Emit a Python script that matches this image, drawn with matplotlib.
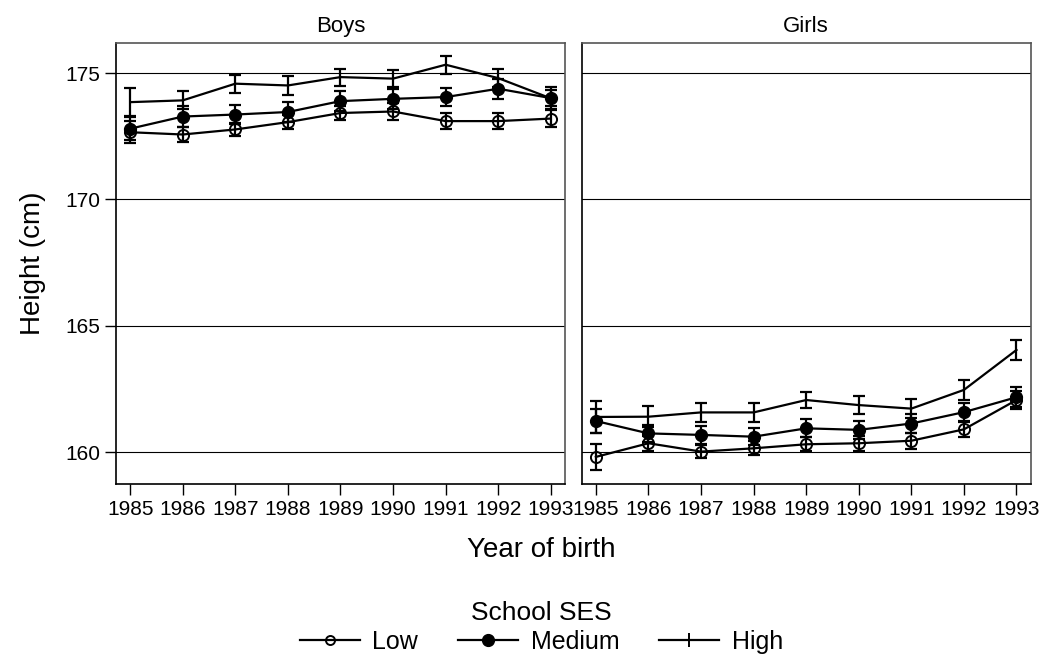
import matplotlib
matplotlib.use("Agg")
import matplotlib.pyplot as plt
from matplotlib.lines import Line2D

plt.rcParams['font.family'] = ['Liberation Sans', 'DejaVu Sans']

years = [1985, 1986, 1987, 1988, 1989, 1990, 1991, 1992, 1993]

# mean height and half-width of the 95% CI, by school SES
boys_low = [172.66, 172.57, 172.77, 173.06, 173.42, 173.48, 173.10, 173.10, 173.20]
boys_low_ci = [0.44, 0.30, 0.27, 0.29, 0.28, 0.32, 0.31, 0.31, 0.34]
boys_med = [172.80, 173.28, 173.36, 173.46, 173.89, 173.98, 174.05, 174.38, 174.01]
boys_med_ci = [0.45, 0.40, 0.36, 0.38, 0.40, 0.40, 0.37, 0.40, 0.33]
boys_high = [173.85, 173.92, 174.58, 174.51, 174.84, 174.78, 175.33, 174.80, 174.00]
boys_high_ci = [0.55, 0.36, 0.36, 0.36, 0.34, 0.34, 0.36, 0.35, 0.43]

girls_low = [159.82, 160.36, 160.03, 160.16, 160.32, 160.36, 160.46, 160.91, 162.07]
girls_low_ci = [0.50, 0.29, 0.27, 0.27, 0.28, 0.29, 0.31, 0.31, 0.35]
girls_med = [161.24, 160.75, 160.69, 160.62, 160.95, 160.89, 161.14, 161.59, 162.18]
girls_med_ci = [0.48, 0.33, 0.34, 0.33, 0.36, 0.35, 0.36, 0.36, 0.40]
girls_high = [161.40, 161.41, 161.58, 161.58, 162.07, 161.87, 161.73, 162.47, 164.05]
girls_high_ci = [0.62, 0.42, 0.37, 0.36, 0.33, 0.36, 0.37, 0.40, 0.41]

panels = [
    ("Boys", [(boys_low, boys_low_ci), (boys_med, boys_med_ci), (boys_high, boys_high_ci)]),
    ("Girls", [(girls_low, girls_low_ci), (girls_med, girls_med_ci), (girls_high, girls_high_ci)]),
]
ses_labels = ["Low", "Medium", "High"]
marker_style = [
    dict(marker="o", mfc="none", mec="black", ms=8, mew=1.4),
    dict(marker="o", mfc="black", mec="black", ms=8.5),
    dict(marker="None"),
]

fig = plt.figure(figsize=(10.43, 6.59), dpi=100)
ax_left = fig.add_axes([0.1112, 0.2656, 0.4305, 0.6692])
ax_right = fig.add_axes([0.5577, 0.2656, 0.4305, 0.6692], sharey=ax_left)

for ax, (title, series) in zip([ax_left, ax_right], panels):
    for yt in [160, 165, 170, 175]:
        ax.axhline(yt, color="black", lw=0.8, zorder=0)
    for (vals, ci), style in zip(series, marker_style):
        ax.plot(years, vals, color="black", lw=1.6, zorder=2, **style)
        # CI bars drawn on top so they cross the circles
        ax.errorbar(years, vals, yerr=ci, fmt="none", ecolor="black",
                    elinewidth=1.6, capsize=4, capthick=1.6, zorder=3)
    ax.set_title(title, fontsize=16, pad=8)
    ax.set_xlim(1984.73, 1993.27)
    ax.set_xticks(years)
    ax.tick_params(axis="x", labelsize=15, length=8, width=1, direction="out")
    for side in ["top", "right"]:
        ax.spines[side].set_color("#555555")
    for sp in ax.spines.values():
        sp.set_linewidth(1.2)

ax_left.set_ylim(158.75, 176.19)
ax_left.set_yticks([160, 165, 170, 175])
ax_left.tick_params(axis="y", labelsize=15, length=8, width=1, direction="out")
ax_left.set_ylabel("Height (cm)", fontsize=20, labelpad=14)
ax_right.tick_params(axis="y", left=False, labelleft=False)

fig.text(0.519, 0.165, "Year of birth", fontsize=20, ha="center", va="center")

handles = [
    Line2D([], [], color="black", lw=1.6, marker="o", mfc="none", mec="black", ms=6.5, mew=1.4),
    Line2D([], [], color="black", lw=1.6, marker="o", mfc="black", mec="black", ms=8.5),
    Line2D([], [], color="black", lw=1.6, marker="|", mec="black", ms=10, mew=1.4),
]
fig.legend(handles, ses_labels, loc="center", bbox_to_anchor=(0.519, 0.048),
           ncol=3, frameon=False, fontsize=18, title="School SES",
           title_fontsize=19, handlelength=2.4, handletextpad=0.5,
           columnspacing=1.6, borderpad=0.1, labelspacing=0.2)

fig.savefig("out.png", dpi=100)
